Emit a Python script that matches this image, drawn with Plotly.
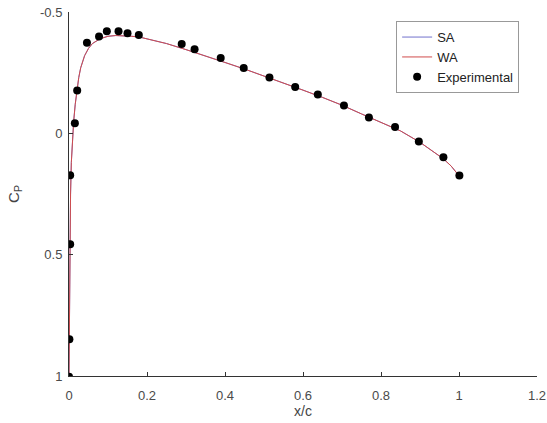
import plotly.graph_objects as go

# Experimental data (x/c, Cp)
exp_x = [0.0, 0.001, 0.003, 0.003, 0.015, 0.021, 0.046, 0.077, 0.097, 0.127, 0.150, 0.179,
         0.289, 0.322, 0.389, 0.448, 0.514, 0.580, 0.638, 0.705, 0.769, 0.836, 0.897, 0.960, 1.001]
exp_cp = [1.003, 0.849, 0.457, 0.173, -0.042, -0.177, -0.373, -0.399, -0.421, -0.421, -0.412, -0.405,
          -0.368, -0.347, -0.310, -0.269, -0.230, -0.191, -0.160, -0.115, -0.065, -0.026, 0.034, 0.099, 0.174]

# Computed curves
curve_x = [0.0, 0.0003, 0.0008, 0.0015, 0.0025, 0.004, 0.006, 0.009, 0.012, 0.016, 0.02, 0.025,
           0.03, 0.04, 0.05, 0.06, 0.08, 0.10, 0.12, 0.14, 0.16, 0.18, 0.20, 0.25, 0.30, 0.35,
           0.40, 0.45, 0.50, 0.55, 0.60, 0.65, 0.70, 0.75, 0.80, 0.85, 0.90, 0.93, 0.96, 0.98, 1.00]
sa_cp = [1.0, 0.90, 0.75, 0.55, 0.40, 0.25, 0.12, 0.02, -0.05, -0.12, -0.18, -0.23,
         -0.27, -0.32, -0.35, -0.37, -0.39, -0.40, -0.403, -0.403, -0.40, -0.397, -0.39, -0.37, -0.345, -0.32,
         -0.292, -0.265, -0.237, -0.208, -0.178, -0.148, -0.116, -0.08, -0.045, -0.01, 0.037, 0.07, 0.105, 0.135, 0.175]
wa_cp = [1.0, 0.90, 0.75, 0.55, 0.40, 0.25, 0.12, 0.02, -0.05, -0.12, -0.18, -0.23,
         -0.27, -0.32, -0.35, -0.37, -0.39, -0.40, -0.403, -0.403, -0.40, -0.397, -0.39, -0.37, -0.345, -0.32,
         -0.292, -0.265, -0.237, -0.208, -0.178, -0.148, -0.116, -0.08, -0.045, -0.01, 0.037, 0.07, 0.105, 0.135, 0.175]

x_ticks = [0, 0.2, 0.4, 0.6, 0.8, 1, 1.2]
x_labels = ["0", "0.2", "0.4", "0.6", "0.8", "1", "1.2"]
y_ticks = [-0.5, 0, 0.5, 1]
y_labels = ["-0.5", "0", "0.5", "1"]

fam = "Liberation Sans, Arial, sans-serif"
tick_font = dict(family=fam, size=13, color="#4a4a4a")

fig = go.Figure()
fig.add_trace(go.Scatter(x=curve_x, y=sa_cp, mode="lines", name="SA",
                         line=dict(color="#7272cc", width=1)))
fig.add_trace(go.Scatter(x=curve_x, y=wa_cp, mode="lines", name="WA",
                         line=dict(color="#d04c4c", width=1)))
fig.add_trace(go.Scatter(x=exp_x, y=exp_cp, mode="markers", name="Experimental",
                         marker=dict(color="black", size=8)))

fig.update_layout(
    width=547, height=423,
    margin=dict(l=69, r=10, t=12, b=47),
    paper_bgcolor="white", plot_bgcolor="white",
    font=tick_font,
    showlegend=True,
    legend=dict(x=0.699, y=0.975, xanchor="left", yanchor="top",
                bgcolor="white", bordercolor="#999999", borderwidth=1,
                font=dict(family=fam, size=13, color="#222222"),
                tracegroupgap=0, itemwidth=30),
    xaxis=dict(range=[0, 1.2], tickvals=x_ticks, ticktext=x_labels, automargin=False,
               showgrid=False, zeroline=False, showline=True, linecolor="#333333", linewidth=1,
               ticks="inside", ticklen=4, tickcolor="#333333", tickfont=tick_font,
               ticklabelstandoff=7,
               title=dict(text="x/c", font=dict(family=fam, size=14, color="#444444"), standoff=4)),
    yaxis=dict(range=[1, -0.5], tickvals=y_ticks, ticktext=y_labels, automargin=False,
               showgrid=False, zeroline=False, showline=True, linecolor="#333333", linewidth=1,
               ticks="inside", ticklen=4, tickcolor="#333333", tickfont=tick_font,
               ticklabelstandoff=3,
               title=dict(text="C<sub>P</sub>", font=dict(family=fam, size=15, color="#444444"), standoff=16)),
)

fig.write_html("out.html")
